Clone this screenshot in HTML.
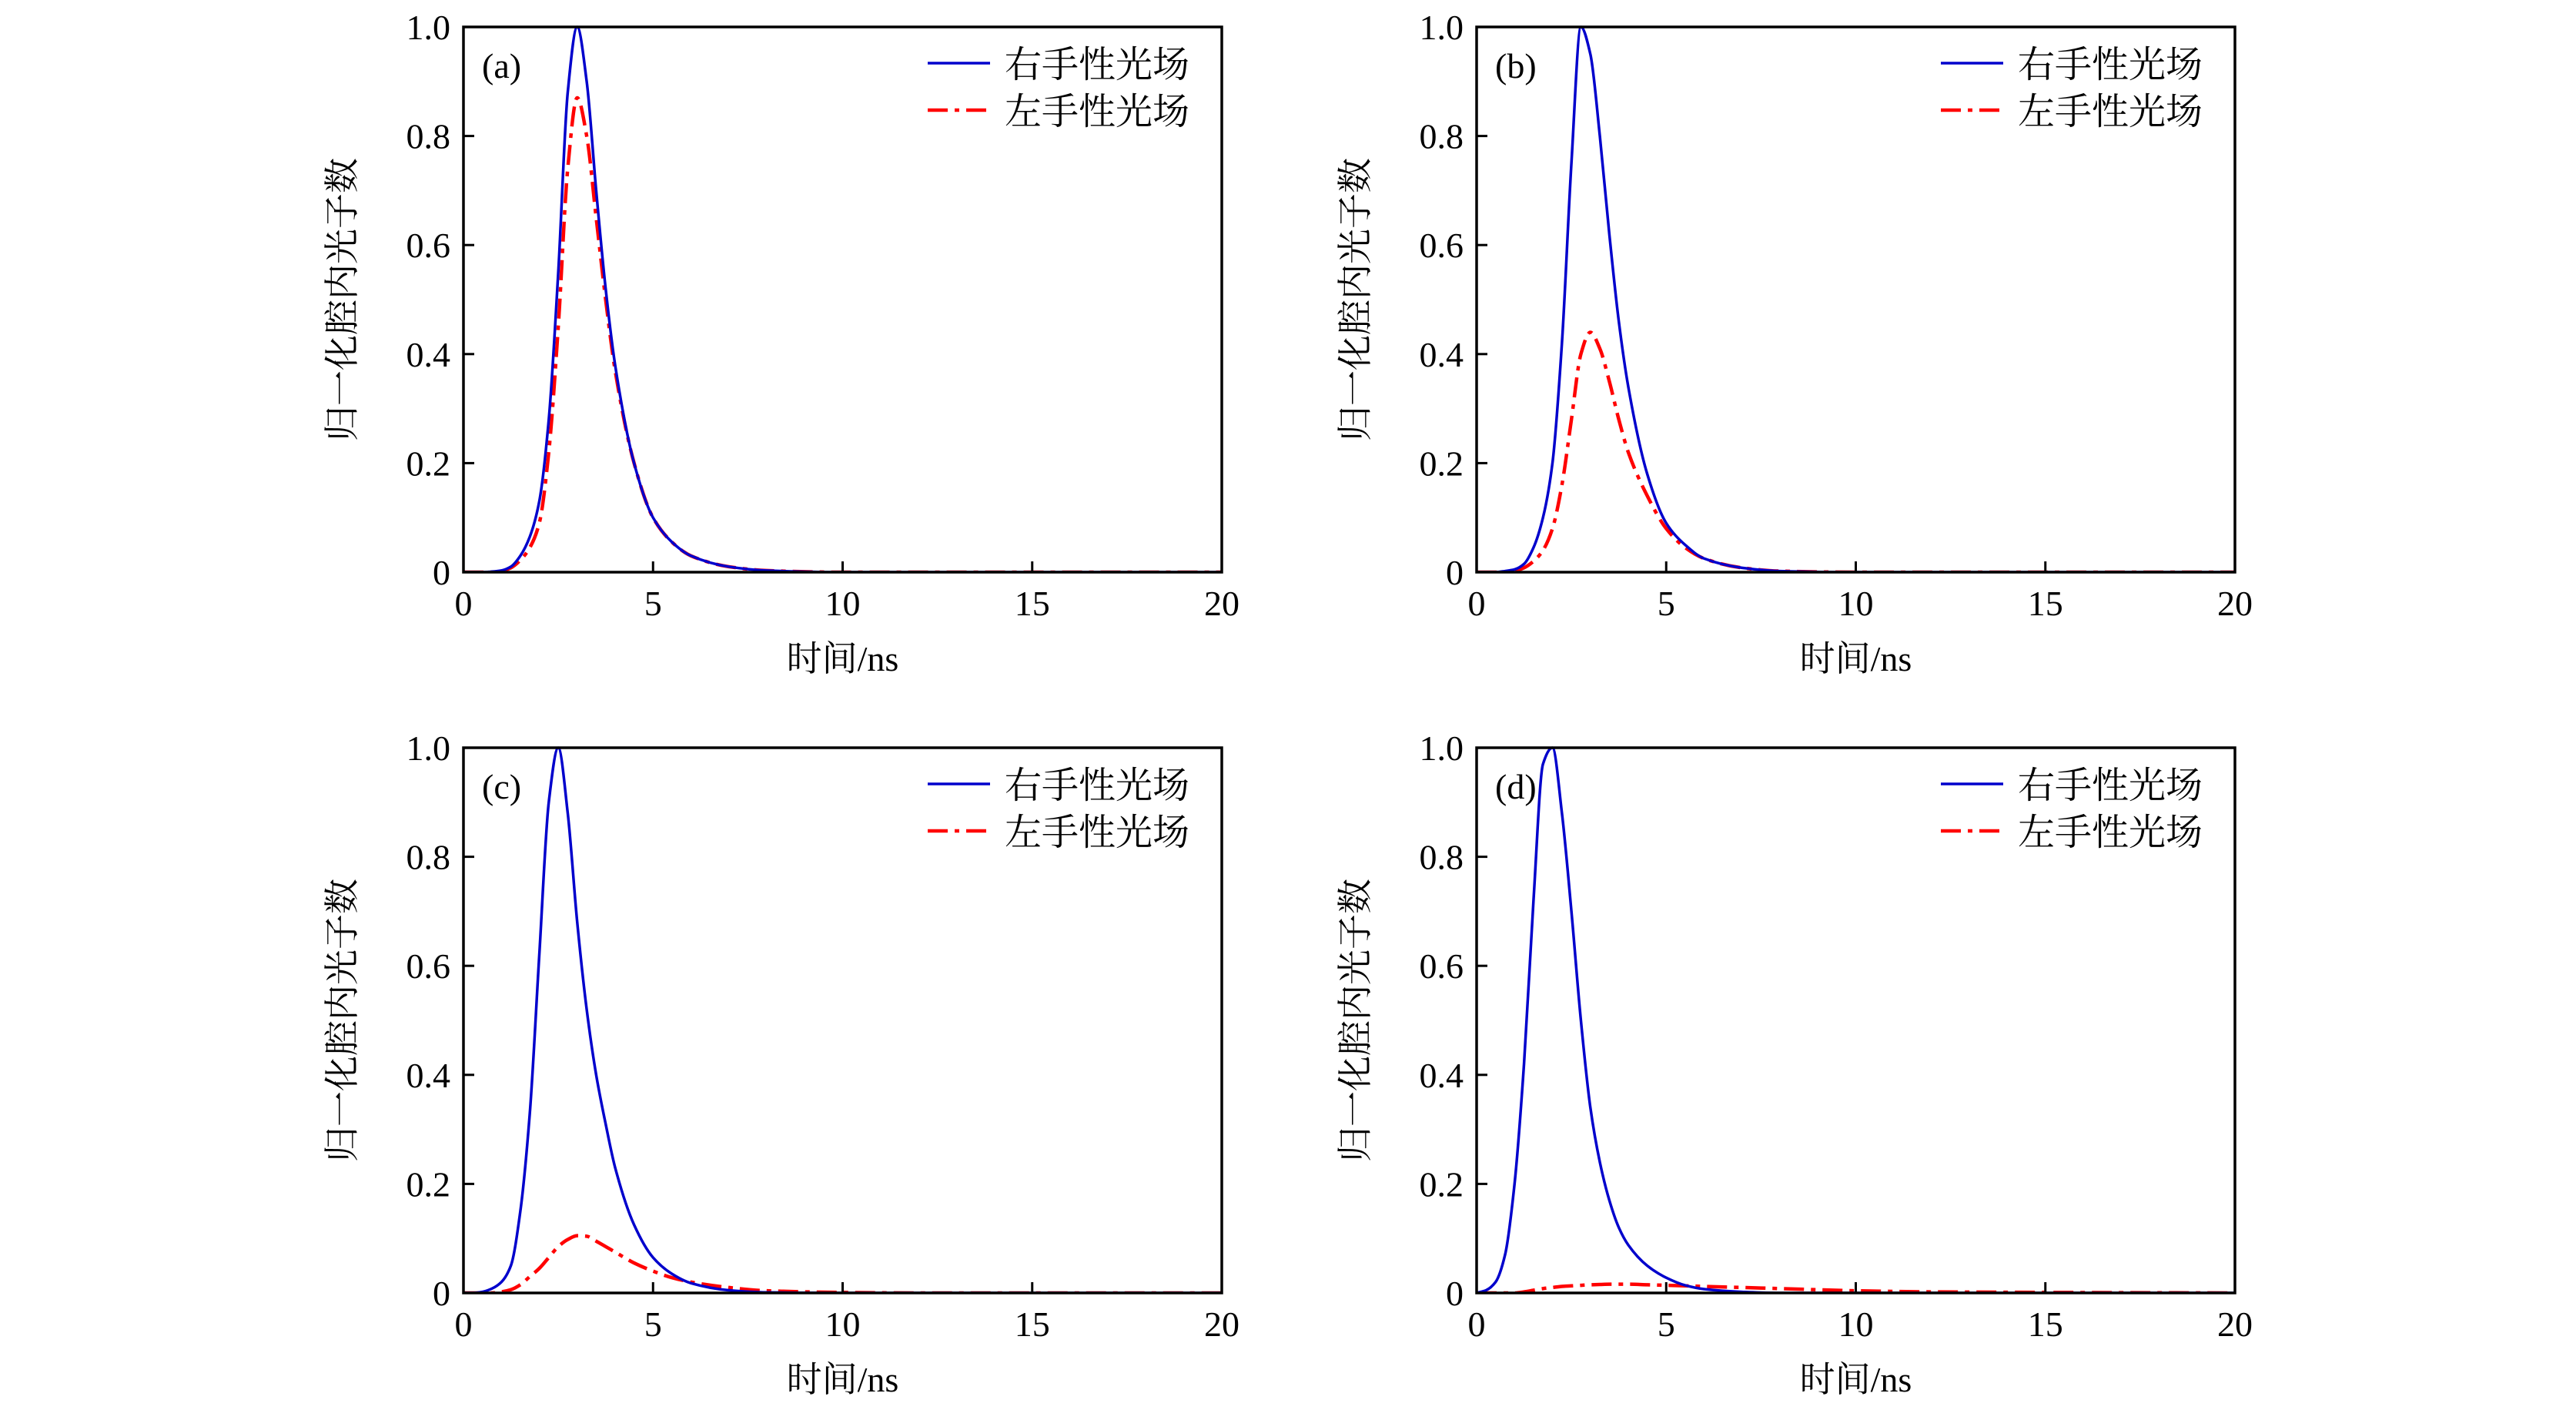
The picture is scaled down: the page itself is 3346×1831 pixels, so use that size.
<!DOCTYPE html>
<html><head><meta charset="utf-8">
<style>
html,body{margin:0;padding:0;background:#fff;}
svg{display:block;}
text{font-family:"Liberation Serif","Noto Serif CJK SC","Noto Sans CJK SC",serif;fill:#000;}
</style></head>
<body>
<svg id="chart" width="3346" height="1831" viewBox="0 0 3346 1831" xmlns="http://www.w3.org/2000/svg"></svg>
<script>
// shared time samples (ns)
const times = [0,0.25,0.5,0.75,1,1.25,1.5,1.75,2,2.25,2.5,2.75,3,3.25,3.5,3.75,4,4.5,5,5.5,6,7,8,10,12,15,20];
// panel (a)
const aRight = [0,0,0,0.001,0.003,0.01,0.03,0.065,0.13,0.28,0.55,0.88,1.0,0.9,0.7,0.52,0.38,0.2,0.1,0.055,0.03,0.01,0.003,0,0,0,0];
const aLeft  = [0,0,0,0,0.002,0.008,0.022,0.045,0.09,0.22,0.45,0.74,0.87,0.8,0.65,0.5,0.37,0.2,0.1,0.055,0.03,0.01,0.003,0,0,0,0];
// panel (b)
const bRight = [0,0,0,0.002,0.005,0.015,0.045,0.1,0.2,0.42,0.75,1.0,0.95,0.8,0.62,0.46,0.34,0.18,0.09,0.05,0.025,0.008,0.002,0,0,0,0];
const bLeft  = [0,0,0,0,0.002,0.008,0.02,0.04,0.08,0.16,0.28,0.4,0.44,0.41,0.35,0.28,0.22,0.14,0.08,0.045,0.025,0.008,0.002,0,0,0,0];
// panel (c)
const cRight = [0,0,0.002,0.008,0.02,0.05,0.15,0.33,0.62,0.9,1.0,0.88,0.68,0.52,0.4,0.31,0.23,0.125,0.065,0.035,0.018,0.005,0.001,0,0,0,0];
const cLeft  = [0,0,0,0,0.002,0.006,0.015,0.03,0.045,0.065,0.085,0.098,0.105,0.104,0.095,0.085,0.075,0.055,0.04,0.028,0.02,0.01,0.004,0.001,0,0,0];
// panel (d)
const dRight = [0,0.005,0.02,0.07,0.2,0.42,0.72,0.97,1.0,0.88,0.7,0.5,0.34,0.24,0.17,0.12,0.088,0.05,0.028,0.014,0.007,0.002,0,0,0,0,0];
const dLeft  = [0,0,0,0,0,0.002,0.005,0.008,0.01,0.012,0.013,0.014,0.015,0.0155,0.016,0.016,0.016,0.015,0.014,0.013,0.012,0.01,0.008,0.004,0.002,0.001,0];
// ticks
const xTicks = [0,5,10,15,20];
const xTickLabels = ["0","5","10","15","20"];
const yTicks = [0,0.2,0.4,0.6,0.8,1.0];
const yTickLabels = ["0","0.2","0.4","0.6","0.8","1.0"];
const panelLabels = ["(a)","(b)","(c)","(d)"];
const legendLabels = ["右手性光场","左手性光场"];
const xTitle = "时间/ns";
const yTitle = "归一化腔内光子数";

const NS = "http://www.w3.org/2000/svg";
const svg = document.getElementById('chart');
const W = 985, H = 708;
const panels = [
  {x:602, y:35, r:aRight, l:aLeft, n:'a'},
  {x:1918, y:35, r:bRight, l:bLeft, n:'b'},
  {x:602, y:971, r:cRight, l:cLeft, n:'c'},
  {x:1918, y:971, r:dRight, l:dLeft, n:'d'}
];
function mk(tag, attrs, parent){
  const e = document.createElementNS(NS, tag);
  for (const k in attrs) e.setAttribute(k, attrs[k]);
  (parent||svg).appendChild(e);
  return e;
}
function monotonePath(px, py){
  const n = px.length, d = [], m = new Array(n);
  for (let i=0;i<n-1;i++) d.push((py[i+1]-py[i])/(px[i+1]-px[i]));
  m[0]=d[0]; m[n-1]=d[n-2];
  for (let i=1;i<n-1;i++){
    if (d[i-1]*d[i] <= 0) m[i]=0;
    else { const w1=2*(px[i+1]-px[i])+(px[i]-px[i-1]), w2=(px[i+1]-px[i])+2*(px[i]-px[i-1]);
      m[i]=(w1+w2)/(w1/d[i-1]+w2/d[i]); }
  }
  let s = `M${px[0].toFixed(2)},${py[0].toFixed(2)}`;
  for (let i=0;i<n-1;i++){
    const h = px[i+1]-px[i];
    s += ` C${(px[i]+h/3).toFixed(2)},${(py[i]+m[i]*h/3).toFixed(2)} ${(px[i+1]-h/3).toFixed(2)},${(py[i+1]-m[i+1]*h/3).toFixed(2)} ${px[i+1].toFixed(2)},${py[i+1].toFixed(2)}`;
  }
  return s;
}
panels.forEach((p, idx) => {
  const g = mk('g', {});
  
  
  const xs = t => p.x + t/20*W;
  const ys = v => p.y + H - v/1.0*H;
  const clipId = 'clip'+p.n;
  const cp = mk('clipPath', {id:clipId}, g);
  mk('rect', {x:p.x, y:p.y-3, width:W, height:H+3}, cp);
  const px = times.map(xs);
  const lp = mk('path', {d:monotonePath(px, p.l.map(ys)), fill:'none', stroke:'#ff0000', 'stroke-width':4.5, 'stroke-dasharray':'26 9 6 9', 'clip-path':`url(#${clipId})`}, g);
  
  
  const rp = mk('path', {d:monotonePath(px, p.r.map(ys)), fill:'none', stroke:'#0000cc', 'stroke-width':3.5, 'clip-path':`url(#${clipId})`}, g);
  
  
  const fr = mk('rect', {x:p.x, y:p.y, width:W, height:H, fill:'none', stroke:'#000', 'stroke-width':3.5}, g);
  
  
  xTicks.forEach((t,i) => {
    mk('line', {x1:xs(t), x2:xs(t), y1:p.y+H, y2:p.y+H-14, stroke:'#000', 'stroke-width':3}, g);
    const tx = mk('text', {x:xs(t), y:p.y+H+56, 'font-size':46, 'text-anchor':'middle'}, g);
    tx.textContent = xTickLabels[i];
    
    
  });
  yTicks.forEach((v,i) => {
    mk('line', {x1:p.x, x2:p.x+14, y1:ys(v), y2:ys(v), stroke:'#000', 'stroke-width':3}, g);
    const tx = mk('text', {x:p.x-17, y:ys(v)+16, 'font-size':46, 'text-anchor':'end'}, g);
    tx.textContent = yTickLabels[i];
    
    
  });
  const xt = mk('text', {x:p.x+W/2, y:p.y+H+128, 'font-size':46, 'text-anchor':'middle'}, g);
  xt.textContent = xTitle;
  
  
  const cx = p.x-158, cy = p.y+H/2;
  const yt = mk('text', {x:cx, y:cy+16, 'font-size':46, 'text-anchor':'middle', transform:`rotate(-90 ${cx} ${cy})`}, g);
  yt.textContent = yTitle;
  
  
  const pl = mk('text', {x:p.x+24, y:p.y+66, 'font-size':46}, g);
  pl.textContent = panelLabels[idx];
  
  
  const lg = mk('g', {}, g);
  
  
  const lx = p.x + 603;
  mk('line', {x1:lx, x2:lx+81, y1:p.y+47, y2:p.y+47, stroke:'#0000cc', 'stroke-width':3.5}, lg);
  mk('line', {x1:lx, x2:lx+81, y1:p.y+108, y2:p.y+108, stroke:'#ff0000', 'stroke-width':4.5, 'stroke-dasharray':'26 9 6 9'}, lg);
  const t1 = mk('text', {x:lx+100, y:p.y+65, 'font-size':48}, lg);
  t1.textContent = legendLabels[0];
  
  
  const t2 = mk('text', {x:lx+100, y:p.y+126, 'font-size':48}, lg);
  t2.textContent = legendLabels[1];
  
  
});
</script>
</body></html>
